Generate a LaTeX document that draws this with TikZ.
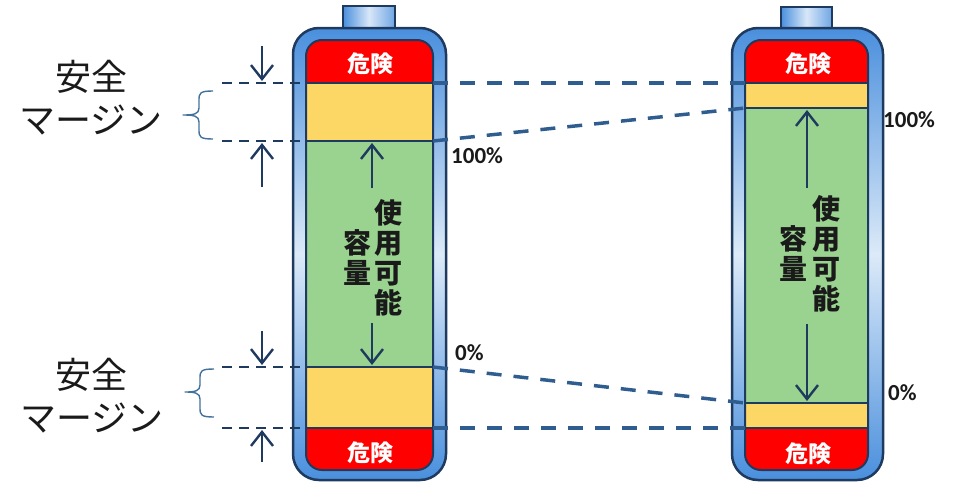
\documentclass[tikz,border=0pt]{standalone}
\usepackage{fontspec}
\newfontfamily\jpfont{Noto Sans CJK JP}
\newfontfamily\pctfont{Carlito}
\usetikzlibrary{arrows.meta}
\definecolor{navy}{HTML}{1F3A5F}
\definecolor{dashblue}{HTML}{2F5D8F}
\definecolor{bracecol}{HTML}{41719C}
\definecolor{shellblue}{HTML}{4A8FDD}
\definecolor{shelllight}{HTML}{DCEAF8}
\definecolor{caplight}{HTML}{D8E7F8}
\definecolor{dangerred}{HTML}{FF0000}
\definecolor{marginyellow}{HTML}{FDD766}
\definecolor{usegreen}{HTML}{99D38F}
\definecolor{txt}{HTML}{1A1A1A}
\tikzset{
  shell/.style={draw=navy, line width=2.5pt, rounded corners=26pt, top color=shellblue, bottom color=shellblue, middle color=shelllight},
  capbox/.style={draw=navy, line width=1.5pt, left color=shellblue, right color=shellblue!80, middle color=caplight},
  innerbox/.style={draw=navy, line width=2pt, rounded corners=16pt},
  sep/.style={draw=navy, line width=2pt},
  crossdash/.style={draw=dashblue, line width=3.5pt, dash pattern=on 15pt off 12pt},
  leftdash/.style={draw=navy, line width=2.2pt, dash pattern=on 10pt off 7pt},
  arr/.style={draw=navy, line width=2.4pt, -{Straight Barb[length=14pt,width=22pt,line width=2.4pt]}},
  bracestyle/.style={draw=bracecol, line width=1.4pt, line join=round},
  danger/.style={text=white, font=\jpfont\bfseries\fontsize{23}{26}\selectfont, inner sep=0pt},
  vtext/.style={text=txt, align=center, font=\jpfont\bfseries\fontsize{28}{30}\selectfont, inner sep=0pt},
  pct/.style={text=txt, font=\pctfont\bfseries\fontsize{23}{24}\selectfont, inner sep=0pt},
  marginlbl/.style={text=txt, font=\jpfont\fontsize{36}{40}\selectfont, inner sep=0pt},
}
\begin{document}
\begin{tikzpicture}[x=1pt,y=-1pt]
\useasboundingbox (0,0) rectangle (953,482);

% ---------- left battery ----------
\path[capbox] (343,6) rectangle (395,30);
\path[shell] (293,28) rectangle (446,480);
\begin{scope}
  \clip[rounded corners=16pt] (306,40) rectangle (433,470);
  \fill[dangerred] (306,40) rectangle (433,83);
  \fill[marginyellow] (306,83) rectangle (433,141);
  \fill[usegreen] (306,141) rectangle (433,367);
  \fill[marginyellow] (306,367) rectangle (433,428);
  \fill[dangerred] (306,428) rectangle (433,470);
\end{scope}
\path[innerbox] (306,40) rectangle (433,470);
\coordinate (L1l) at (306,83);  \coordinate (L1r) at (433,83);
\coordinate (L2l) at (306,141); \coordinate (L2r) at (433,141);
\coordinate (L3l) at (306,367); \coordinate (L3r) at (433,367);
\coordinate (L4l) at (306,428); \coordinate (L4r) at (433,428);
\draw[sep] (L1l) -- (L1r);
\draw[sep] (L2l) -- (L2r);
\draw[sep] (L3l) -- (L3r);
\draw[sep] (L4l) -- (L4r);

% ---------- right battery ----------
\path[capbox] (781,7) rectangle (832,30);
\path[shell] (732,28) rectangle (883,480);
\begin{scope}
  \clip[rounded corners=16pt] (745,40) rectangle (868,470);
  \fill[dangerred] (745,40) rectangle (868,82);
  \fill[marginyellow] (745,82) rectangle (868,108);
  \fill[usegreen] (745,108) rectangle (868,403);
  \fill[marginyellow] (745,403) rectangle (868,428);
  \fill[dangerred] (745,428) rectangle (868,470);
\end{scope}
\path[innerbox] (745,40) rectangle (868,470);
\coordinate (R1l) at (745,83);  \coordinate (R1r) at (868,83);
\coordinate (R2l) at (745,108); \coordinate (R2r) at (868,108);
\coordinate (R3l) at (745,403); \coordinate (R3r) at (868,403);
\coordinate (R4l) at (745,428); \coordinate (R4r) at (868,428);
\draw[sep] (R1l) -- (R1r);
\draw[sep] (R2l) -- (R2r);
\draw[sep] (R3l) -- (R3r);
\draw[sep] (R4l) -- (R4r);

% ---------- danger labels ----------
\node[danger] (dLt) at (370,64) {危険};
\node[danger] (dLb) at (370,453) {危険};
\node[danger] (dRt) at (808,64) {危険};
\node[danger] (dRb) at (808,454) {危険};

% ---------- usable capacity ----------
\node[vtext] (uL1) at (388,257.5) {使\\用\\可\\能};
\node[vtext] (uL2) at (357,257.5) {容\\量};
\node[vtext] (uR1) at (826,253.5) {使\\用\\可\\能};
\node[vtext] (uR2) at (793,253.5) {容\\量};
\coordinate (gLa) at (372,188); \coordinate (gLat) at (372,143);
\coordinate (gLb) at (372,323); \coordinate (gLbt) at (372,365);
\coordinate (gRa) at (807,188); \coordinate (gRat) at (807,110);
\coordinate (gRb) at (807,324); \coordinate (gRbt) at (807,401);
\draw[arr] (gLa) -- (gLat);
\draw[arr] (gLb) -- (gLbt);
\draw[arr] (gRa) -- (gRat);
\draw[arr] (gRb) -- (gRbt);

% ---------- percentage labels ----------
\node[pct, anchor=west] (p100L) at (451,156) {100\%};
\node[pct, anchor=west] (p0L) at (455,353) {0\%};
\node[pct, anchor=west] (p100R) at (883,120) {100\%};
\node[pct, anchor=west] (p0R) at (888,393) {0\%};

% ---------- cross dashed lines ----------
\draw[crossdash] (L1r) -- (R1l);
\draw[crossdash] (L2r) -- (R2l);
\draw[crossdash] (L3r) -- (R3l);
\draw[crossdash] (L4r) -- (R4l);

% ---------- left dashed lines ----------
\coordinate (M1) at (222,83);
\coordinate (M2) at (222,141);
\coordinate (M3) at (222,367);
\coordinate (M4) at (222,428);
\draw[leftdash] (M1) -- (L1l);
\draw[leftdash] (M2) -- (L2l);
\draw[leftdash] (M3) -- (L3l);
\draw[leftdash] (M4) -- (L4l);

% ---------- margin arrows ----------
\coordinate (a1) at (262,46);  \coordinate (a1t) at (262,81);
\coordinate (a2) at (262,187); \coordinate (a2t) at (262,143);
\coordinate (a3) at (262,331); \coordinate (a3t) at (262,365);
\coordinate (a4) at (262,462); \coordinate (a4t) at (262,430);
\draw[arr] (a1) -- (a1t);
\draw[arr] (a2) -- (a2t);
\draw[arr] (a3) -- (a3t);
\draw[arr] (a4) -- (a4t);

% ---------- braces ----------
\coordinate (b1t) at (213,91); \coordinate (b1m) at (183,115); \coordinate (b1b) at (213,139);
\draw[bracestyle] (b1t) .. controls (200,91) and (199,93) .. (199,100)
  -- (199,108) .. controls (199,114) and (194,115) .. (b1m)
  .. controls (194,115) and (199,116) .. (199,122)
  -- (199,130) .. controls (199,137) and (200,139) .. (b1b);
\coordinate (b2t) at (214,369); \coordinate (b2m) at (185,392); \coordinate (b2b) at (214,417);
\draw[bracestyle] (b2t) .. controls (201,369) and (200,371) .. (200,378)
  -- (200,385) .. controls (200,391) and (195,392) .. (b2m)
  .. controls (195,392) and (200,393) .. (200,399)
  -- (200,408) .. controls (200,415) and (201,417) .. (b2b);

% ---------- margin labels ----------
\node[marginlbl] (m1a) at (91,77) {安全};
\node[marginlbl] (m1b) at (91,120) {マージン};
\node[marginlbl] (m2a) at (91,375) {安全};
\node[marginlbl] (m2b) at (92,418) {マージン};
\end{tikzpicture}
\end{document}
